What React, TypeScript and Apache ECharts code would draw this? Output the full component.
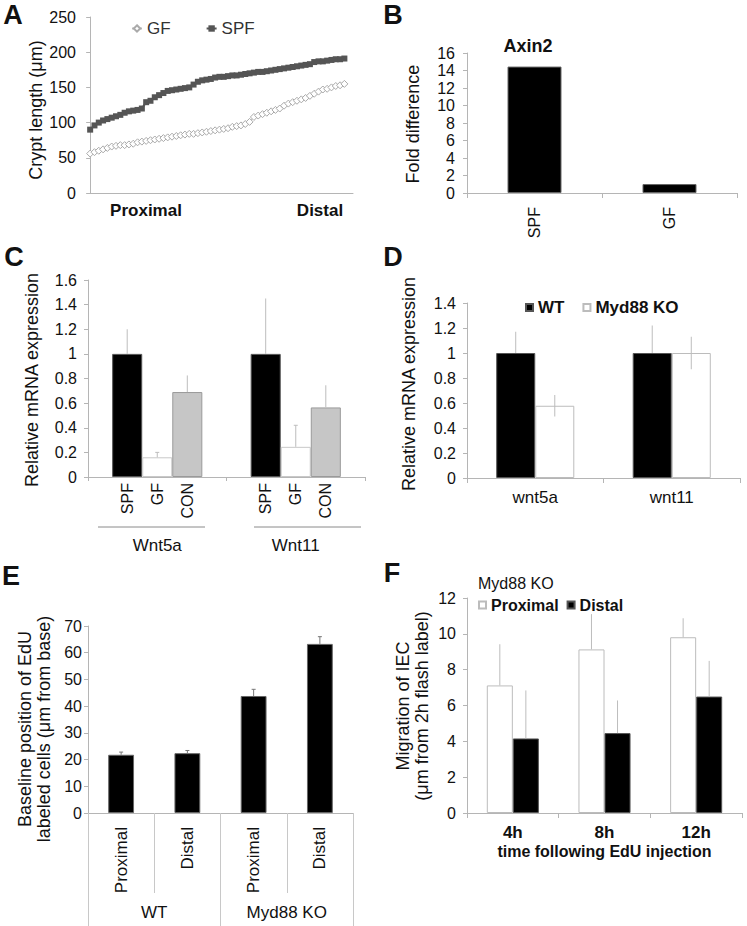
import React, { useEffect, useRef } from 'react';
import * as echarts from 'echarts';

// ---------- Panel A: crypt length (sorted, proximal -> distal)
const aGF = [56, 58, 60, 62, 64, 66, 67, 68, 68, 69, 70, 72, 73, 74, 75, 76, 77, 78, 79, 80, 81, 82, 83, 84, 84, 85, 86, 87, 88, 89, 90, 91, 92, 94, 95, 96, 98, 101, 108, 110, 112, 114, 116, 118, 120, 124, 127, 129, 131, 133, 135, 138, 141, 144, 147, 148, 150, 152, 153, 155];
const aSPF = [90, 96, 100, 103, 105, 107, 109, 111, 114, 116, 117, 118, 120, 129, 131, 136, 139, 142, 145, 146, 147, 148, 149, 150, 154, 158, 160, 161, 162, 164, 165, 165, 166, 167, 167, 168, 169, 170, 171, 172, 172, 173, 174, 175, 176, 177, 178, 179, 180, 181, 182, 183, 186, 187, 187, 188, 189, 190, 190, 191];

// ---------- Panel B: Axin2 fold difference
const bCats = ['SPF', 'GF'];
const bValues = [14.45, 1.02];

// ---------- Panel C: Wnt5a / Wnt11 in SPF, GF, CON
const cGroups = ['Wnt5a', 'Wnt11'];
const cNames = ['SPF', 'GF', 'CON'];
const cSPF = [1.0, 1.0];
const cSPFErr = [0.2, 0.45];
const cGF = [0.16, 0.245];
const cGFErr = [0.04, 0.175];
const cCON = [0.69, 0.565];
const cCONErr = [0.135, 0.18];

// ---------- Panel D: WT vs Myd88 KO
const dCats = ['wnt5a', 'wnt11'];
const dWT = [1.0, 1.0];
const dWTErr = [0.17, 0.22];
const dKO = [0.578, 1.0];
const dKOErr = [0.086, 0.13];

// ---------- Panel E: baseline position of EdU labeled cells
const eKeys = ['WT-Proximal', 'WT-Distal', 'KO-Proximal', 'KO-Distal'];
const eLabels = ['Proximal', 'Distal', 'Proximal', 'Distal'];
const eGroups = ['WT', 'Myd88 KO'];
const eValues = [21.8, 22.4, 43.8, 63.3];
const eErr = [1.0, 1.0, 2.5, 2.7];

// ---------- Panel F: migration of IEC
const fCats = ['4h', '8h', '12h'];
const fProx = [7.12, 9.13, 9.81];
const fProxErr = [2.3, 1.97, 1.06];
const fDist = [4.16, 4.46, 6.5];
const fDistErr = [2.68, 1.82, 1.99];

const FONT = '"Liberation Sans", Arial, Helvetica, sans-serif';
const AX = '#b5b5b5';
const TXT = '#111';

const grids = [
  { left: 88, top: 17, width: 265, height: 176 },
  { left: 467, top: 53, width: 270, height: 140 },
  { left: 88, top: 280, width: 277, height: 197 },
  { left: 467, top: 303, width: 273, height: 175 },
  { left: 88, top: 626, width: 265, height: 187 },
  { left: 467, top: 598, width: 275, height: 215 },
];

const dec = (v: number) => String(Math.round(v * 10) / 10);

function yAx(gridIndex: number, max: number, interval: number, margin = 10, fmt?: any) {
  return {
    type: 'value', gridIndex, min: 0, max, interval,
    axisLine: { show: true, lineStyle: { color: AX, width: 1 } },
    axisTick: { show: true, length: 4, lineStyle: { color: AX } },
    splitLine: { show: false },
    axisLabel: { color: TXT, fontSize: 16, fontFamily: FONT, margin, formatter: fmt },
  };
}

function xCat(gridIndex: number, data: string[], extra: any = {}) {
  return {
    type: 'category', gridIndex, data,
    axisLine: { show: true, lineStyle: { color: AX, width: 1 } },
    axisTick: { show: true, length: 5, lineStyle: { color: AX } },
    splitLine: { show: false },
    ...extra,
    axisLabel: { color: TXT, fontSize: 17, fontFamily: FONT, margin: 11, ...(extra.axisLabel || {}) },
  };
}

function errBars(ai: number, vals: number[], up: number[], down: number[], k: number, n: number, frac: number, color: string, cap = 0) {
  return {
    type: 'custom', name: 'err' + ai + '-' + k, xAxisIndex: ai, yAxisIndex: ai, z: 5, silent: true,
    data: vals.map((v, i) => [i, v + up[i], v - down[i]]),
    encode: { x: 0, y: [1, 2] },
    renderItem: (params: any, api: any) => {
      const i = api.value(0);
      const top = api.coord([i, api.value(1)]);
      const bot = api.coord([i, api.value(2)]);
      const band = api.size([1, 0])[0];
      const x = top[0] + (k - (n - 1) / 2) * band * frac;
      const children: any[] = [
        { type: 'line', shape: { x1: x, y1: top[1], x2: x, y2: bot[1] }, style: { stroke: color, lineWidth: 1 } },
      ];
      if (cap) children.push({ type: 'line', shape: { x1: x - cap, y1: top[1], x2: x + cap, y2: top[1] }, style: { stroke: color, lineWidth: 1 } });
      return { type: 'group', children };
    },
  };
}

const zeros = (n: number) => new Array(n).fill(0);

function rotText(x: number, y: number, text: string, size = 18, weight = 'normal') {
  return {
    type: 'text', x, y, rotation: Math.PI / 2,
    style: { text, align: 'center', verticalAlign: 'middle', font: `${weight} ${size}px ${FONT}`, fill: TXT, lineHeight: 19 },
  };
}
function txt(x: number, y: number, text: string, size = 16, weight = 'normal', align = 'center') {
  return {
    type: 'text', x, y,
    style: { text, align, verticalAlign: 'middle', font: `${weight} ${size}px ${FONT}`, fill: TXT },
  };
}

export default function App() {
  const ref = useRef<HTMLDivElement>(null);
  useEffect(() => {
    if (!ref.current) return;
    const chart = echarts.init(ref.current, undefined, { renderer: 'svg' });
    const cFrac = 0.217;
    const dFrac = 0.286;
    const fFrac = 0.284;
    const cSeries = [cSPF, cGF, cCON].map((vals, k) => ({
      type: 'bar', name: 'c' + cNames[k], xAxisIndex: 2, yAxisIndex: 2,
      data: vals, barWidth: (cFrac * 100).toFixed(1) + '%', barGap: '0%',
      itemStyle: [
        { color: '#000', borderColor: '#555', borderWidth: 1 },
        { color: '#fff', borderColor: '#c8c8c8', borderWidth: 1 },
        { color: '#c6c6c6', borderColor: '#9a9a9a', borderWidth: 1 },
      ][k],
      label: {
        show: true, position: 'bottom', distance: 6, rotate: 90, align: 'right', verticalAlign: 'middle',
        formatter: () => cNames[k], fontSize: 16, color: TXT, fontFamily: FONT,
      },
    }));

    const option: any = {
      animation: false,
      textStyle: { fontFamily: FONT },
      grid: grids,
      legend: [
        {
          data: ['GF', 'SPF'], left: 131, top: 20, padding: 0, itemWidth: 10, itemHeight: 8, itemGap: 35,
          selectedMode: false, textStyle: { fontSize: 17, color: '#333', fontFamily: FONT },
        },
        {
          data: ['WT', 'Myd88 KO'], left: 525, top: 299, padding: 0, icon: 'rect', itemWidth: 7, itemHeight: 7, itemGap: 18,
          selectedMode: false, textStyle: { fontSize: 17, fontWeight: 'bold', color: TXT, fontFamily: FONT },
        },
        {
          data: ['Proximal', 'Distal'], left: 478, top: 597, padding: 0, icon: 'rect', itemWidth: 7, itemHeight: 7, itemGap: 8,
          selectedMode: false, textStyle: { fontSize: 16, fontWeight: 'bold', color: TXT, fontFamily: FONT },
        },
      ],
      xAxis: [
        {
          type: 'value', gridIndex: 0, min: -0.5, max: 61,
          axisLine: { show: true, lineStyle: { color: AX } }, axisTick: { show: false },
          axisLabel: { show: false }, splitLine: { show: false },
        },
        xCat(1, bCats, { axisLabel: { rotate: 90, margin: 14, fontSize: 16 } }),
        xCat(2, cGroups, { axisTick: { show: true, length: 4, lineStyle: { color: AX } }, axisLabel: { margin: 60 } }),
        xCat(3, dCats),
        xCat(4, eKeys, {
          axisTick: { show: true, length: 80, lineStyle: { color: '#c8c8c8' } },
          axisLabel: { rotate: 90, margin: 14, formatter: (_v: string, i: number) => eLabels[i] },
        }),
        xCat(5, fCats, {
          name: 'time following EdU injection', nameLocation: 'middle', nameGap: 30,
          nameTextStyle: { fontSize: 16, fontWeight: 'bold', color: TXT, fontFamily: FONT },
          axisLabel: { fontWeight: 'bold', margin: 11 },
        }),
        xCat(4, eGroups, {
          position: 'bottom', axisLine: { show: false },
          axisTick: { show: true, length: 113, lineStyle: { color: '#c8c8c8' } },
          axisLabel: { margin: 91 },
        }),
      ],
      yAxis: [
        yAx(0, 250, 50, 12),
        yAx(1, 16, 2, 12),
        yAx(2, 1.6, 0.2, 11, dec),
        yAx(3, 1.4, 0.2, 11, dec),
        yAx(4, 70, 10, 6),
        yAx(5, 12, 2, 11),
      ],
      series: [
        {
          type: 'line', name: 'GF', xAxisIndex: 0, yAxisIndex: 0,
          data: aGF.map((v, i) => [i, v]), symbol: 'diamond', symbolSize: 7, showAllSymbol: true,
          itemStyle: { color: '#fff', borderColor: '#aaa', borderWidth: 1 },
          lineStyle: { color: '#bbb', width: 1 },
        },
        {
          type: 'line', name: 'SPF', xAxisIndex: 0, yAxisIndex: 0,
          data: aSPF.map((v, i) => [i, v]), symbol: 'rect', symbolSize: 6, showAllSymbol: true,
          itemStyle: { color: '#555' }, lineStyle: { color: '#555', width: 2 },
        },
        {
          type: 'bar', name: 'Axin2', xAxisIndex: 1, yAxisIndex: 1, data: bValues, barWidth: '40%',
          itemStyle: { color: '#000', borderColor: '#666', borderWidth: 1 },
        },
        ...cSeries,
        errBars(2, cSPF, cSPFErr, zeros(2), 0, 3, cFrac, '#bdbdbd'),
        errBars(2, cGF, cGFErr, zeros(2), 1, 3, cFrac, '#bdbdbd', 2),
        errBars(2, cCON, cCONErr, zeros(2), 2, 3, cFrac, '#bdbdbd'),
        {
          type: 'bar', name: 'WT', xAxisIndex: 3, yAxisIndex: 3, data: dWT, barWidth: (dFrac * 100).toFixed(1) + '%', barGap: '0%',
          itemStyle: { color: '#000', borderColor: '#555', borderWidth: 1 },
        },
        {
          type: 'bar', name: 'Myd88 KO', xAxisIndex: 3, yAxisIndex: 3, data: dKO, barWidth: (dFrac * 100).toFixed(1) + '%', barGap: '0%',
          itemStyle: { color: '#fff', borderColor: '#bcbcbc', borderWidth: 1 },
        },
        errBars(3, dWT, dWTErr, zeros(2), 0, 2, dFrac, '#bdbdbd'),
        errBars(3, dKO, dKOErr, dKOErr, 1, 2, dFrac, '#bdbdbd'),
        {
          type: 'bar', name: 'E', xAxisIndex: 4, yAxisIndex: 4, data: eValues, barWidth: '39%',
          itemStyle: { color: '#000', borderColor: '#666', borderWidth: 1 },
        },
        errBars(4, eValues, eErr, zeros(4), 0, 1, 0.39, '#777', 2),
        {
          type: 'bar', name: 'Proximal', xAxisIndex: 5, yAxisIndex: 5, data: fProx, barWidth: (fFrac * 100).toFixed(1) + '%', barGap: '0%',
          itemStyle: { color: '#fff', borderColor: '#bcbcbc', borderWidth: 1 },
        },
        {
          type: 'bar', name: 'Distal', xAxisIndex: 5, yAxisIndex: 5, data: fDist, barWidth: (fFrac * 100).toFixed(1) + '%', barGap: '0%',
          itemStyle: { color: '#000', borderColor: '#555', borderWidth: 1 },
        },
        errBars(5, fProx, fProxErr, zeros(3), 0, 2, fFrac, '#bdbdbd'),
        errBars(5, fDist, fDistErr, zeros(3), 1, 2, fFrac, '#bdbdbd'),
      ],
      graphic: [
        txt(13, 15, 'A', 27, 'bold'),
        txt(393, 15, 'B', 27, 'bold'),
        txt(14, 257, 'C', 27, 'bold'),
        txt(393, 257, 'D', 27, 'bold'),
        txt(11, 576, 'E', 27, 'bold'),
        txt(392, 573, 'F', 27, 'bold'),
        rotText(36, 110, 'Crypt length (μm)'),
        rotText(413, 124, 'Fold difference'),
        rotText(32, 380, 'Relative mRNA expression'),
        rotText(409, 384, 'Relative mRNA expression'),
        rotText(34, 729, 'Baseline position of EdU\nlabeled cells (μm from base)'),
        rotText(412, 706, 'Migration of IEC\n(μm from 2h flash label)'),
        txt(146, 210, 'Proximal', 17, 'bold'),
        txt(320, 210, 'Distal', 17, 'bold'),
        txt(528, 46, 'Axin2', 18, 'bold'),
        txt(478, 583, 'Myd88 KO', 16, 'normal', 'left'),
        { type: 'line', shape: { x1: 98, y1: 527, x2: 205, y2: 527 }, style: { stroke: '#8a8a8a', lineWidth: 1 } },
        { type: 'line', shape: { x1: 254, y1: 527, x2: 361, y2: 527 }, style: { stroke: '#8a8a8a', lineWidth: 1 } },
      ],
    };
    chart.setOption(option);
    return () => chart.dispose();
  }, []);
  return <div ref={ref} style={{ position: 'absolute', left: 0, top: 0, width: 747, height: 926, background: '#fff' }} />;
}
